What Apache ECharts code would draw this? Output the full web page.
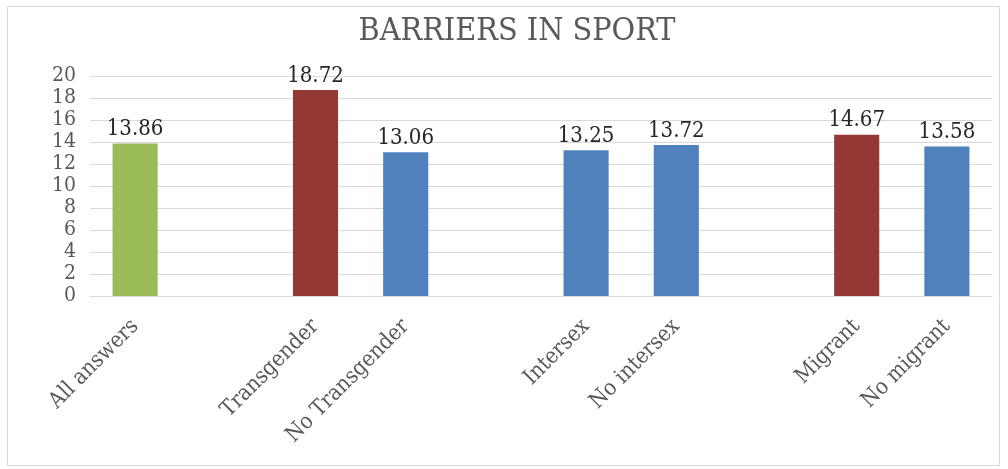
<!DOCTYPE html>
<html><head><meta charset="utf-8">
<script src="https://cdn.jsdelivr.net/npm/echarts@6/dist/echarts.min.js"></script>
<style>html,body{margin:0;padding:0;background:#fff}#c{width:1008px;height:469px}</style>
</head><body><div id="c"></div>
<script>
const categories = ['All answers', '', 'Transgender', 'No Transgender', '', 'Intersex', 'No intersex', '', 'Migrant', 'No migrant'];
const values = [13.86, null, 18.72, 13.06, null, 13.25, 13.72, null, 14.67, 13.58];
const barColors = ['#9BBB59', '#4F81BD', '#953735', '#4F81BD', '#4F81BD', '#4F81BD', '#4F81BD', '#4F81BD', '#953735', '#4F81BD'];
const yTicks = [0, 2, 4, 6, 8, 10, 12, 14, 16, 18, 20];

const FONT = 'DejaVu Serif Condensed';
const chart = echarts.init(document.getElementById('c'));
chart.setOption({
  animation: false,
  title: {
    text: 'BARRIERS IN SPORT', left: 512, top: 11, textAlign: 'center',
    textStyle: {fontFamily: FONT, fontSize: 32, fontWeight: 'normal', color: '#595959'}
  },
  graphic: [{type: 'rect', shape: {x: 7.5, y: 6.5, width: 992, height: 459}, style: {fill: 'none', stroke: '#D9D9D9', lineWidth: 1}, silent: true}],
  grid: {left: 90, right: 16, top: 76, bottom: 173},
  xAxis: {
    type: 'category', data: categories,
    axisLine: {lineStyle: {color: '#D9D9D9', width: 1}},
    axisTick: {show: false},
    axisLabel: {rotate: 45, interval: 0, margin: 27, fontFamily: FONT, fontSize: 22, color: '#595959'}
  },
  yAxis: {
    type: 'value', min: 0, max: 20, interval: 2,
    axisLine: {show: false}, axisTick: {show: false},
    splitLine: {lineStyle: {color: '#D9D9D9', width: 1}},
    axisLabel: {margin: 14, fontFamily: FONT, fontSize: 21, color: '#595959',
      formatter: v => yTicks.includes(v) ? String(v) : ''}
  },
  series: [{
    type: 'bar', barWidth: '50%',
    data: values.map((v, i) => ({value: v == null ? '-' : v, itemStyle: {color: barColors[i]}})),
    label: {show: true, position: 'top', distance: 3, fontFamily: FONT, fontSize: 22, color: '#262626',
      formatter: p => p.value.toFixed(2)}
  }]
});
</script></body></html>
